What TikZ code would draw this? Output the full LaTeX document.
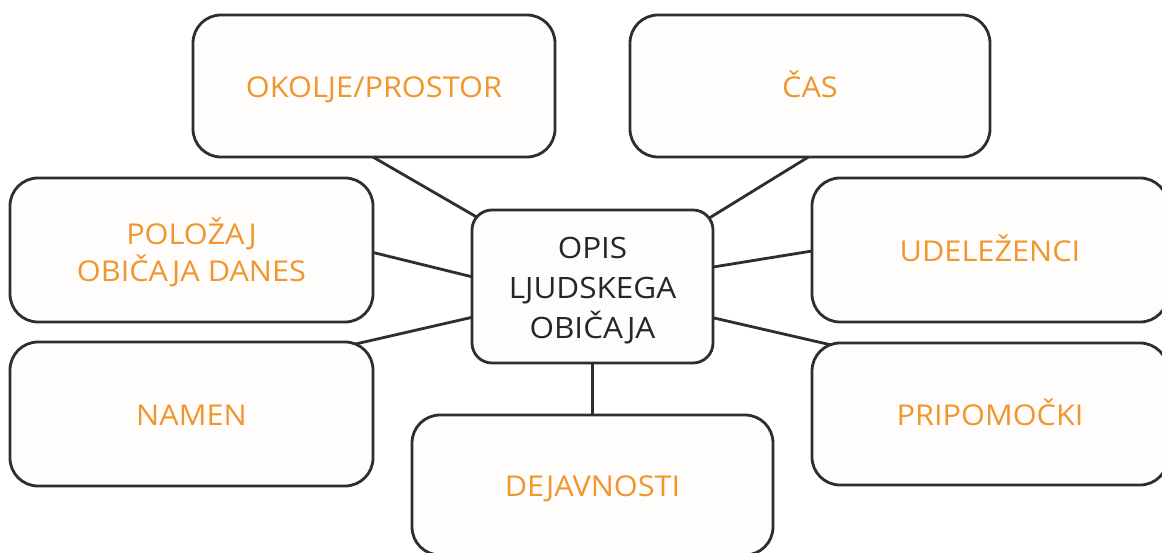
\documentclass[tikz,border=0pt]{standalone}
\usepackage{fontspec}
\setmainfont{Open Sans}[FakeStretch=1.07]
\usetikzlibrary{backgrounds}
\definecolor{boxline}{HTML}{2E2E2E}
\definecolor{labelorange}{HTML}{F0962E}
\definecolor{boxfill}{HTML}{FEFDFB}
\begin{document}
\begin{tikzpicture}[x=1pt,y=-1pt,
  box/.style={draw=boxline, line width=2.8pt, fill=boxfill, rounded corners=28pt,
    inner sep=0pt, outer sep=0pt, text=labelorange,
    font=\fontsize{28.7}{34}\selectfont, text height=22.5pt, text depth=0pt},
  link/.style={draw=boxline, line width=2.8pt}]
\useasboundingbox (0,0) rectangle (1162,553);
\begin{scope}
\clip (0,0) rectangle (1162,553);
\node[box, minimum width=362pt, minimum height=142pt] (okolje) at (374,86) {OKOLJE/PROSTOR};
\node[box, minimum width=360pt, minimum height=142pt] (cas) at (810,86) {ČAS};
\node[box, minimum width=363pt, minimum height=144pt, text height=0pt, text depth=11.5pt] (polozaj) at (191.5,250)
  {\begin{tabular}[t]{@{}c@{}}POLOŽAJ\\OBIČAJA DANES\end{tabular}};
\node[box, minimum width=356pt, minimum height=144pt] (udel) at (990,250) {UDELEŽENCI};
\node[box, minimum width=363pt, minimum height=144pt] (namen) at (191.5,414) {NAMEN};
\node[box, minimum width=356pt, minimum height=142pt] (prip) at (990,414) {PRIPOMOČKI};
\node[box, minimum width=361pt, minimum height=140pt] (dej) at (592.5,485) {DEJAVNOSTI};
\node[box, rounded corners=20pt, text=black!85, minimum width=241pt, minimum height=153pt,
  font=\fontsize{29.4}{40}\selectfont, text height=0pt, text depth=55pt] (opis) at (592.5,286.5)
  {\begin{tabular}[t]{@{}c@{}}OPIS\\LJUDSKEGA\\OBIČAJA\end{tabular}};
\end{scope}
\begin{scope}[on background layer]
\fill[white] (0,0) rectangle (1162,553);
\draw[link] ([shift={(-8,-4)}]okolje.south) -- ([shift={(15,13)}]opis.north west);
\draw[link] ([shift={(6.5,-5)}]cas.south) -- ([shift={(-15.5,15.3)}]opis.north east);
\draw[link] ([shift={(-10,0)}]polozaj.east) -- ([shift={(11,-7)}]opis.west);
\draw[link] ([shift={(-9,-18)}]opis.east) -- ([shift={(10,-0.6)}]udel.west);
\draw[link] ([shift={(11,28.3)}]opis.west) -- ([shift={(-22.7,3.2)}]namen.north east);
\draw[link] ([shift={(-9,29.2)}]opis.east) -- ([shift={(24.7,3.2)}]prip.north west);
\draw[link] (opis.south) -- (opis.south |- dej.north);
\end{scope}
\end{tikzpicture}
\end{document}
